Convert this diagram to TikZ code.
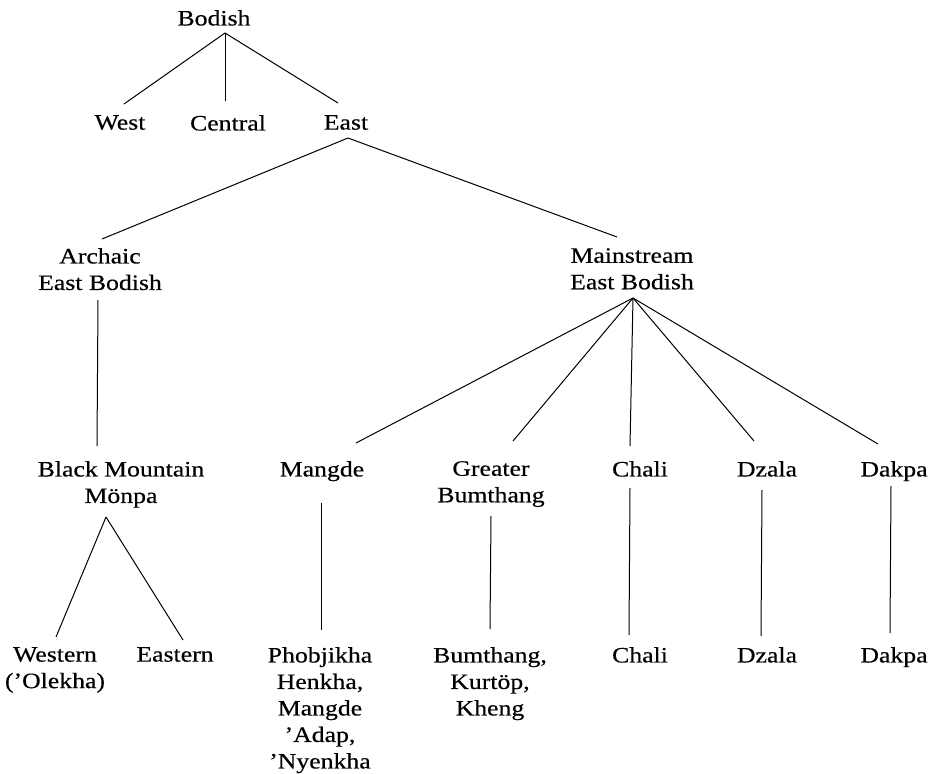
\documentclass[tikz,border=0pt]{standalone}
\usepackage{fontspec}
\setmainfont{Liberation Serif}[FakeStretch=1.17,FakeBold=0.4]

\begin{document}
\begin{tikzpicture}[x=1pt,y=-1pt]

\tikzstyle{every node}=[inner sep=0pt, anchor=north, align=center, font=\fontsize{22}{26.5}\selectfont]
\tikzstyle{branch} = [line width=1pt, black]

\useasboundingbox (0,0) rectangle (938,774);

% Bodish and its three branches
\node at (214,10) (bodish) {Bodish};
\node at (120,115) (west) {West};
\node at (228,115) (central) {Central};
\node at (346,115) (east) {East};

\draw[branch] ([shift={(11,23)}]bodish.north) -- ([shift={(4,-11)}]west.north);
\draw[branch] ([shift={(11,23)}]bodish.north) -- ([shift={(-3,-14)}]central.north);
\draw[branch] ([shift={(11,23)}]bodish.north) -- ([shift={(-8,-12)}]east.north);

% East Bodish
\node at (100,248) (archaic) {Archaic\\East Bodish};
\node at (632,248) (mainstream) {Mainstream\\East Bodish};

\draw[branch] ([shift={(2,23)}]east.north) -- ([shift={(2,-9)}]archaic.north);
\draw[branch] ([shift={(2,23)}]east.north) -- ([shift={(-15,-11)}]mainstream.north);

% languages
\node at (121,461) (blackmtn) {Black Mountain\\Mönpa};
\node at (322,461) (mangde) {Mangde};
\node at (491,461) (greater) {Greater\\Bumthang};

\draw[branch] ([shift={(-2,52)}]archaic.north) -- ([shift={(-24,-15)}]blackmtn.north);
\draw[branch] ([shift={(1,50)}]mainstream.north) -- ([shift={(34,-18)}]mangde.north);
\draw[branch] ([shift={(1,50)}]mainstream.north) -- ([shift={(22,-20)}]greater.north);

% leaves
\node at (55,647) (western) {Western\\(’Olekha)};
\node at (175,647) (eastern) {Eastern};
\node at (320,647) (phobjikha) {Phobjikha\\Henkha,\\Mangde\\’Adap,\\’Nyenkha};
\node at (490,647) (bumthang) {Bumthang,\\Kurtöp,\\Kheng};

\draw[branch] ([shift={(-15,56)}]blackmtn.north) -- ([shift={(1,-10)}]western.north);
\draw[branch] ([shift={(-15,56)}]blackmtn.north) -- ([shift={(8,-7)}]eastern.north);
\draw[branch] ([shift={(-1,42)}]mangde.north) -- ([shift={(1,-17)}]phobjikha.north);
\draw[branch] ([shift={(0,55)}]greater.north) -- ([shift={(0,-18)}]bumthang.north);

% single-language groups
\foreach \name/\x/\dx/\top/\tip in {Chali/640/-10/-15/27, Dzala/767/-13/-20/29, Dakpa/894/-16/-17/25} {
    \node at (\x,461) (lang\name) {\name};
    \node at (\x,647) (leaf\name) {\name};
    \draw[branch] ([shift={(1,50)}]mainstream.north) -- ([shift={(\dx,\top)}]lang\name.north);
}
\draw[branch] ([shift={(-10,27)}]langChali.north) -- ([shift={(-11,-12)}]leafChali.north);
\draw[branch] ([shift={(-5,29)}]langDzala.north) -- ([shift={(-6,-11)}]leafDzala.north);
\draw[branch] ([shift={(-3,25)}]langDakpa.north) -- ([shift={(-4,-14)}]leafDakpa.north);

\end{tikzpicture}
\end{document}
